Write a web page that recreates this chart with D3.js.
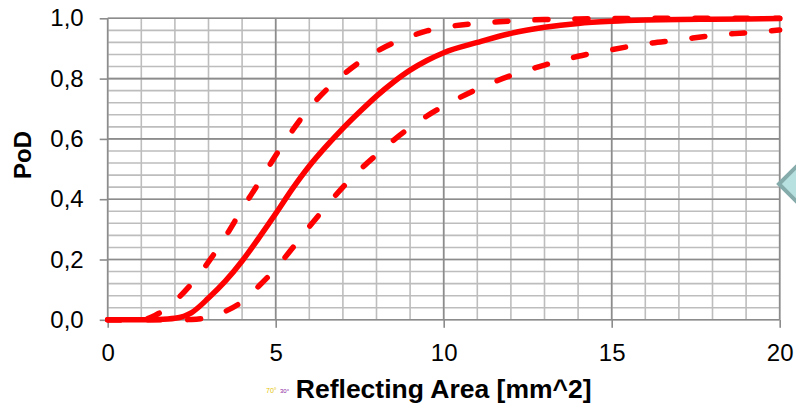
<!DOCTYPE html>
<html>
<head>
<meta charset="utf-8">
<script src="https://cdnjs.cloudflare.com/ajax/libs/d3/7.8.5/d3.min.js"></script>
<style>
  body { margin: 0; background: #fff; }
  svg { display: block; }
</style>
</head>
<body>
<div id="chart"></div>
<script>
// reflecting area in mm^2
let xVals = [0, 1, 1.5, 2, 2.5, 3, 3.5, 4, 4.5, 5, 5.5, 6, 6.5, 7, 7.5, 8, 8.5, 9, 9.5, 10, 11, 12, 13, 14, 15, 16, 17, 18, 19, 20]

// probability of detection, mean curve + the two bounds
let podMean = [0, 0, 0.001, 0.005, 0.024, 0.072, 0.128, 0.195, 0.272, 0.352, 0.435, 0.51, 0.575, 0.635, 0.69, 0.742, 0.788, 0.828, 0.86, 0.886, 0.92, 0.95, 0.97, 0.983, 0.99, 0.994, 0.996, 0.997, 0.998, 0.999]
let podUpper = [0, 0, 0.02, 0.062, 0.12, 0.192, 0.275, 0.367, 0.455, 0.545, 0.628, 0.702, 0.762, 0.812, 0.855, 0.89, 0.918, 0.94, 0.958, 0.97, 0.983, 0.991, 0.996, 0.998, 0.999, 1, 1, 1, 1, 1]
let podLower = [0, 0, 0, 0, 0.001, 0.008, 0.028, 0.06, 0.112, 0.17, 0.238, 0.309, 0.376, 0.44, 0.497, 0.547, 0.595, 0.638, 0.676, 0.709, 0.765, 0.81, 0.845, 0.874, 0.896, 0.915, 0.928, 0.943, 0.952, 0.961]

let xTicks = [0, 5, 10, 15, 20]
let yTicks = [0, 0.2, 0.4, 0.6, 0.8, 1.0]

const width = 796
const height = 407
const margin = { left: 107.7, right: 16.3, top: 18.3, bottom: 87.2 }
const font = 'Arial, "Liberation Sans", sans-serif'

const svg = d3.select('#chart')
    .append('svg')
    .attr('width', width)
    .attr('height', height)

svg.append('rect')
    .attr('width', width)
    .attr('height', height)
    .attr('fill', '#fff')

const x = d3.scaleLinear()
    .domain([0, 20])
    .range([margin.left, width - margin.right])

const y = d3.scaleLinear()
    .domain([0, 1])
    .range([height - margin.bottom, margin.top])

const locale = d3.formatLocale({ decimal: ',', thousands: '.', grouping: [3], currency: ['', ''] })
const fmt = locale.format('.1f')

// gridlines: minor first, major on top
const grid = svg.append('g').attr('class', 'grid')

grid.selectAll('.hminor')
    .data(d3.range(0, 26).map(i => i * 0.04))
    .join('line')
    .attr('x1', x(0))
    .attr('x2', x(20))
    .attr('y1', d => y(d))
    .attr('y2', d => y(d))
    .attr('stroke', '#bdbdbd')
    .attr('stroke-width', 1.6)

grid.selectAll('.vminor')
    .data(d3.range(0, 21))
    .join('line')
    .attr('x1', d => x(d))
    .attr('x2', d => x(d))
    .attr('y1', y(0))
    .attr('y2', y(1))
    .attr('stroke', '#bdbdbd')
    .attr('stroke-width', 1.6)

grid.selectAll('.hmajor')
    .data(yTicks)
    .join('line')
    .attr('x1', x(0))
    .attr('x2', x(20))
    .attr('y1', d => y(d))
    .attr('y2', d => y(d))
    .attr('stroke', '#8c8c8c')
    .attr('stroke-width', 1.6)

grid.selectAll('.vmajor')
    .data(xTicks)
    .join('line')
    .attr('x1', d => x(d))
    .attr('x2', d => x(d))
    .attr('y1', y(0))
    .attr('y2', y(1))
    .attr('stroke', '#8c8c8c')
    .attr('stroke-width', 1.6)

// axes
const yAxis = d3.axisLeft(y)
    .tickValues(yTicks)
    .tickSize(8)
    .tickPadding(16)
    .tickFormat(fmt)

const xAxis = d3.axisBottom(x)
    .tickValues(xTicks)
    .tickSize(8)
    .tickPadding(16)

svg.append('g')
    .attr('class', 'y axis')
    .attr('transform', `translate(${x(0)},0)`)
    .call(yAxis)

svg.append('g')
    .attr('class', 'x axis')
    .attr('transform', `translate(0,${y(0)})`)
    .call(xAxis)

svg.selectAll('.axis .domain').remove()
svg.selectAll('.axis line')
    .attr('stroke', '#8c8c8c')
    .attr('stroke-width', 1.6)
svg.selectAll('.axis text')
    .attr('font-family', font)
    .attr('font-size', 24)
    .attr('fill', '#000')

// curves
const line = (vals) => d3.line()
    .x((d, i) => x(xVals[i]))
    .y(d => y(d))
    .curve(d3.curveMonotoneX)(vals)

const curves = [
    { vals: podUpper, dash: '13,27' },
    { vals: podLower, dash: '13,27' },
    { vals: podMean, dash: null }
]

svg.append('g')
    .selectAll('path')
    .data(curves)
    .join('path')
    .attr('d', d => line(d.vals))
    .attr('fill', 'none')
    .attr('stroke', '#ff0000')
    .attr('stroke-width', 5.5)
    .attr('stroke-linecap', 'round')
    .attr('stroke-linejoin', 'round')
    .attr('stroke-dasharray', d => d.dash)

// axis titles
svg.append('text')
    .text('Reflecting Area [mm^2]')
    .attr('x', (x(0) + x(20)) / 2)
    .attr('y', 398)
    .attr('text-anchor', 'middle')
    .attr('font-family', font)
    .attr('font-weight', 'bold')
    .attr('font-size', 26.5)

svg.append('text')
    .text('PoD')
    .attr('transform', `translate(31,155) rotate(-90)`)
    .attr('text-anchor', 'middle')
    .attr('font-family', font)
    .attr('font-weight', 'bold')
    .attr('font-size', 24)

// leftovers from the slide the chart was cut from
svg.append('text')
    .text('70°')
    .attr('x', 266)
    .attr('y', 393)
    .attr('font-family', font)
    .attr('font-size', 7)
    .attr('fill', '#e3c400')

svg.append('text')
    .text('30°')
    .attr('x', 280)
    .attr('y', 393)
    .attr('font-family', font)
    .attr('font-size', 6)
    .attr('fill', '#8a1aa0')

svg.append('polygon')
    .attr('points', '779,184 801,162 823,184 801,206')
    .attr('fill', '#b7e1e1')
    .attr('stroke', '#86abab')
    .attr('stroke-width', 4)
</script>
</body>
</html>
